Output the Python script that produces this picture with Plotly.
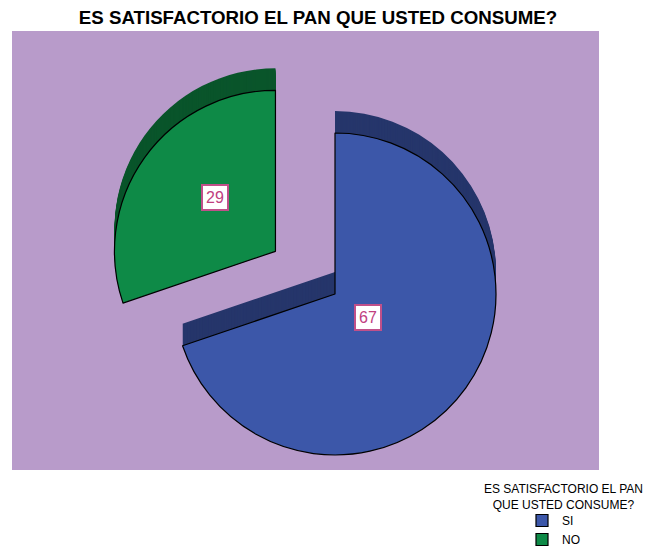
import math
import plotly.graph_objects as go

# Survey answers
categories = ["SI", "NO"]
values = [67, 29]
chart_title = "ES SATISFACTORIO EL PAN QUE USTED CONSUME?"
legend_title = "ES SATISFACTORIO EL PAN<br>QUE USTED CONSUME?"

# Page / styling
W, H = 656, 546
FONT = "Liberation Sans, Arial, sans-serif"
bg_purple = "#B89BCA"
face_colors = ["#3C57A9", "#0E8A47"]
side_colors = ["#26366B", "#0A552B"]
pulls = [0, 0.455]
depth = 22                 # extrusion height in px
cx, cy, r = 335, 294, 161  # pie centre / radius in px
label_frac = [0.25, 0.57]  # label distance along each slice bisector, in radii

box = 2 * r * (1 + max(pulls))


def pie_domain(shift):
    x = [(cx - box / 2) / W, (cx + box / 2) / W]
    y = [1 - (cy - shift + box / 2) / H, 1 - (cy - shift - box / 2) / H]
    return dict(x=x, y=y)


fig = go.Figure()

# extruded body: stacked darker copies, back to front
for s in range(depth, 0, -1):
    fig.add_trace(go.Pie(
        labels=categories, values=values, sort=False, direction="clockwise",
        rotation=0, pull=pulls, domain=pie_domain(s),
        marker=dict(colors=side_colors, line=dict(width=0)),
        textinfo="none", hoverinfo="skip", showlegend=False,
    ))

# top face
fig.add_trace(go.Pie(
    labels=categories, values=values, sort=False, direction="clockwise",
    rotation=0, pull=pulls, domain=pie_domain(0),
    marker=dict(colors=face_colors, line=dict(color="#000000", width=1.2)),
    textinfo="none", showlegend=True,
))

# value labels placed along each slice bisector
total = sum(values)
start = 0.0
annotations = []
for v, p, f in zip(values, pulls, label_frac):
    mid = (start + v / total / 2) * 2 * math.pi
    dx, dy = math.sin(mid), -math.cos(mid)
    px = cx + (p + f) * r * dx
    py = cy + (p + f) * r * dy
    annotations.append(dict(
        x=px / W, y=1 - py / H, xref="paper", yref="paper",
        text=str(v), showarrow=False,
        font=dict(family=FONT, size=16, color="#C0407F"),
        bgcolor="#FFFFFF", bordercolor="#C0508A", borderwidth=2, borderpad=3,
    ))
    start += v / total

# legend heading
annotations.append(dict(
    x=563 / W, y=1 - 496.5 / H, xref="paper", yref="paper",
    xanchor="center", yanchor="middle",
    text=legend_title, showarrow=False, align="center",
    font=dict(family=FONT, size=12, color="#000000"),
))

fig.update_layout(
    width=W, height=H,
    margin=dict(l=0, r=0, t=0, b=0, autoexpand=False),
    paper_bgcolor="#FFFFFF",
    title=dict(text="<b>" + chart_title + "</b>", x=318 / W, xanchor="center",
               y=1 - 17 / H, yanchor="middle", yref="container",
               font=dict(family=FONT, size=18.7, color="#000000")),
    shapes=[dict(type="rect", xref="paper", yref="paper", layer="below",
                 x0=12 / W, x1=599 / W, y0=1 - 470 / H, y1=1 - 31 / H,
                 fillcolor=bg_purple, line=dict(width=0))],
    annotations=annotations,
    legend=dict(x=522 / W, xanchor="left", y=-8 / H, yanchor="bottom",
                bgcolor="rgba(0,0,0,0)", font=dict(family=FONT, size=12, color="#000000"),
                tracegroupgap=0),
)

fig.write_html("out.html")
